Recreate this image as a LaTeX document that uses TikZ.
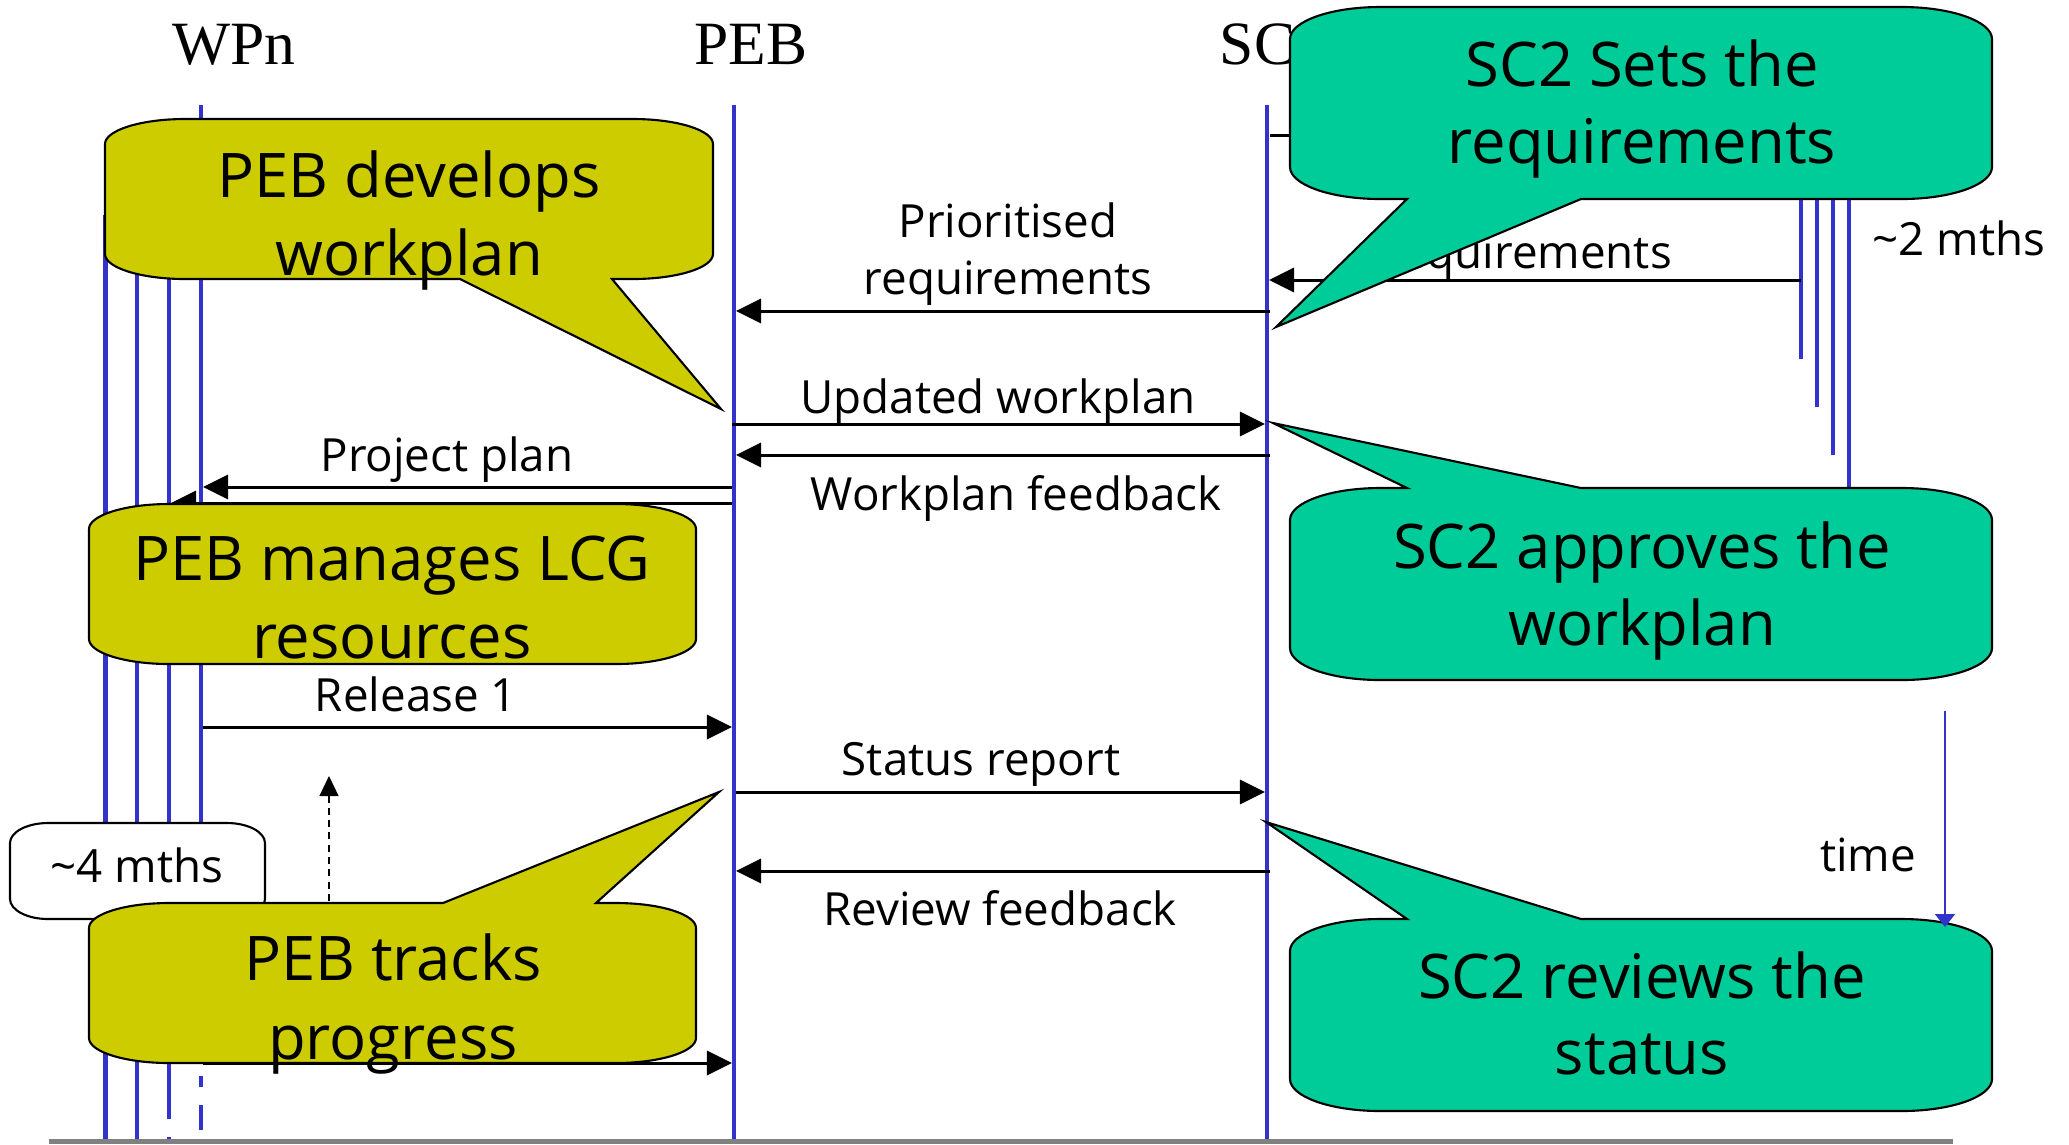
\documentclass[tikz,border=0pt]{standalone}
\usepackage{fontspec}
\setmainfont{Open Sans}
\newfontfamily\titlefont{Liberation Serif}
\usetikzlibrary{arrows.meta}
\definecolor{lifeblue}{HTML}{3333CC}
\definecolor{calyellow}{HTML}{CCCC00}
\definecolor{calgreen}{HTML}{00CC99}
\definecolor{basegray}{HTML}{808080}
\tikzset{
 lifeline/.style={draw=lifeblue, line width=1.2pt},
 msg/.style={draw=black, line width=0.85pt, -{Triangle[length=0.25cm,width=0.24cm]}},
 callout/.style={draw=black, line width=0.6pt},
 calltext/.style={font=\fontsize{17.5}{21}\selectfont, anchor=base, inner sep=0pt},
 msglabel/.style={font=\fontsize{13}{16}\selectfont, anchor=base, inner sep=0pt},
 titletext/.style={font=\titlefont\fontsize{17.5}{21}\selectfont, anchor=base, inner sep=0pt},
}
\def\cRX{80}\def\cRY{25}
% pointer on top edge: #1 fill, #2 x1, #3 y1, #4 x2, #5 y2, #6 b1, #7 b2, #8 tip
\newcommand{\wedgeTop}[8]{%
 \path[callout,fill=#1] ({#2+\cRX},#3) -- (#6,#3) -- #8 -- (#7,#3) -- ({#4-\cRX},#3)
  .. controls ({#4-0.45*\cRX},#3) and (#4,{#3+0.45*\cRY}) .. (#4,{#3+\cRY})
  -- (#4,{#5-\cRY})
  .. controls (#4,{#5-0.45*\cRY}) and ({#4-0.45*\cRX},#5) .. ({#4-\cRX},#5)
  -- ({#2+\cRX},#5)
  .. controls ({#2+0.45*\cRX},#5) and (#2,{#5-0.45*\cRY}) .. (#2,{#5-\cRY})
  -- (#2,{#3+\cRY})
  .. controls (#2,{#3+0.45*\cRY}) and ({#2+0.45*\cRX},#3) .. ({#2+\cRX},#3) -- cycle;}
% pointer on bottom edge
\newcommand{\wedgeBot}[8]{%
 \path[callout,fill=#1] ({#2+\cRX},#3) -- ({#4-\cRX},#3)
  .. controls ({#4-0.45*\cRX},#3) and (#4,{#3+0.45*\cRY}) .. (#4,{#3+\cRY})
  -- (#4,{#5-\cRY})
  .. controls (#4,{#5-0.45*\cRY}) and ({#4-0.45*\cRX},#5) .. ({#4-\cRX},#5)
  -- (#7,#5) -- #8 -- (#6,#5) -- ({#2+\cRX},#5)
  .. controls ({#2+0.45*\cRX},#5) and (#2,{#5-0.45*\cRY}) .. (#2,{#5-\cRY})
  -- (#2,{#3+\cRY})
  .. controls (#2,{#3+0.45*\cRY}) and ({#2+0.45*\cRX},#3) .. ({#2+\cRX},#3) -- cycle;}
\begin{document}
\begin{tikzpicture}[x=0.01cm,y=-0.01cm]
\useasboundingbox (0,0) rectangle (2069,1144);
\clip (0,0) rectangle (2069,1144);
\fill[white] (0,0) rectangle (2069,1144);

% lifelines
\coordinate (wpnT) at (201,105);
\coordinate (pebT) at (734,105);
\coordinate (sc2T) at (1267,105);
\draw[lifeline] (wpnT) -- (201,1063);
\draw[lifeline] (201,1076) -- (201,1087);
\draw[lifeline] (201,1105) -- (201,1130);
\draw[lifeline] (169,215) -- (169,1119);
\draw[lifeline] (169,1137) -- (169,1144);
\draw[lifeline] (137,215) -- (137,1144);
\draw[lifeline] (105.5,215) -- (105.5,1144);
\draw[lifeline] (pebT) -- (734,1144);
\draw[lifeline] (sc2T) -- (1267,1144);
\draw[lifeline] (1801,150) -- (1801,359);
\draw[lifeline] (1817,150) -- (1817,407);
\draw[lifeline] (1833,150) -- (1833,455);
\draw[lifeline] (1849,150) -- (1849,488);
\draw[draw=basegray, line width=1.5pt] (49,1141.5) -- (1953,1141.5);

% titles
\node[titletext] (tWPn) at (234,64) {WPn};
\node[titletext] (tPEB) at (751,64) {PEB};
\node[titletext] (tSC2) at (1273,64) {SC2};

% message end points
\coordinate (m0a) at (1270,135);   \coordinate (m0b) at (1801,135);
\coordinate (rqa) at (1801,280);   \coordinate (rqb) at (1269,280);
\coordinate (m1a) at (1270,311);   \coordinate (m1b) at (736,311);
\coordinate (m2a) at (732,424);    \coordinate (m2b) at (1265,424);
\coordinate (m3a) at (1270,455);   \coordinate (m3b) at (736,455);
\coordinate (m4a) at (732,487);    \coordinate (m4b) at (203,487);
\coordinate (m5a) at (732,503);    \coordinate (m5b) at (171,503);
\coordinate (m6a) at (203,727);    \coordinate (m6b) at (732,727);
\coordinate (m7a) at (736,792);    \coordinate (m7b) at (1265,792);
\coordinate (m8a) at (1270,871);   \coordinate (m8b) at (736,871);
\coordinate (m9a) at (203,1063);   \coordinate (m9b) at (732,1063);

\draw[msg] (m0a) -- (m0b);
\draw[msg] (rqa) -- (rqb);
\draw[msg] (m1a) -- (m1b);
\draw[msg] (m2a) -- (m2b);
\draw[msg] (m3a) -- (m3b);
\draw[msg] (m4a) -- (m4b);
\draw[msg] (m5a) -- (m5b);
\draw[msg] (m6a) -- (m6b);
\draw[msg] (m7a) -- (m7b);
\draw[msg] (m8a) -- (m8b);
\draw[msg] (m9a) -- (m9b);

% message labels
\node[msglabel, anchor=base west] (lReq) at (1372,268) {Requirements};
\node[msglabel, anchor=base west] (l2m) at (1872,255) {\textasciitilde2 mths};
\node[msglabel] (lPr1) at (1008,237) {Prioritised};
\node[msglabel] (lPr2) at (1008,294) {requirements};
\node[msglabel] (lUpd) at (998,413) {Updated workplan};
\node[msglabel] (lWfb) at (1016,510) {Workplan feedback};
\node[msglabel] (lPP) at (447,471) {Project plan};
\node[msglabel] (lRel) at (416,711) {Release 1};
\node[msglabel] (lSt) at (981,775) {Status report};
\node[msglabel] (lRv) at (1000,925) {Review feedback};

% ~4 mths box
\def\cRX{38}\def\cRY{20}
\wedgeBot{white}{10}{823}{265}{919}{140}{140}{(140,919)}
\node[msglabel] (l4m) at (137,882) {\textasciitilde4 mths};

% dashed progress arrow
\coordinate (dA) at (329,901);
\coordinate (dB) at (329,776);
\draw[black, line width=0.4pt, dash pattern=on 2pt off 1.5pt, -{Triangle[length=0.2cm,width=0.19cm]}] (dA) -- (dB);

% yellow callouts
\def\cRX{80}\def\cRY{25}
\wedgeBot{calyellow}{105}{119}{713}{279}{460}{612}{(721,409)}
\node[calltext] (c1a) at (409,197.5) {PEB develops};
\node[calltext] (c1b) at (409,275) {workplan};
\wedgeBot{calyellow}{89}{504}{696}{664}{400}{400}{(400,664)}
\node[calltext] (c2a) at (392,580) {PEB manages LCG};
\node[calltext] (c2b) at (392,658) {resources};
\wedgeTop{calyellow}{89}{903}{696}{1063}{443}{596}{(719,792)}
\node[calltext] (c3a) at (393,980) {PEB tracks};
\node[calltext] (c3b) at (393,1059) {progress};

% green callouts
\def\cRX{90}\def\cRY{32}
\wedgeBot{calgreen}{1290}{7}{1992}{199}{1407}{1581}{(1276,327)}
\node[calltext] (c4a) at (1642,86) {SC2 Sets the};
\node[calltext] (c4b) at (1642,163) {requirements};
\wedgeTop{calgreen}{1290}{488}{1992}{680}{1407}{1581}{(1273,423)}
\node[calltext] (c5a) at (1642,568) {SC2 approves the};
\node[calltext] (c5b) at (1642,645) {workplan};
\wedgeTop{calgreen}{1290}{919}{1992}{1111}{1407}{1581}{(1266,822)}
\node[calltext] (c6a) at (1642,998) {SC2 reviews the};
\node[calltext] (c6b) at (1642,1074) {status};

% time arrow
\coordinate (tA) at (1945,711);
\coordinate (tB) at (1945,927);
\draw[lifeblue, line width=0.5pt, -{Triangle[length=0.13cm,width=0.2cm]}] (tA) -- (tB);
\node[msglabel] (lTime) at (1868,871) {time};
\end{tikzpicture}
\end{document}
